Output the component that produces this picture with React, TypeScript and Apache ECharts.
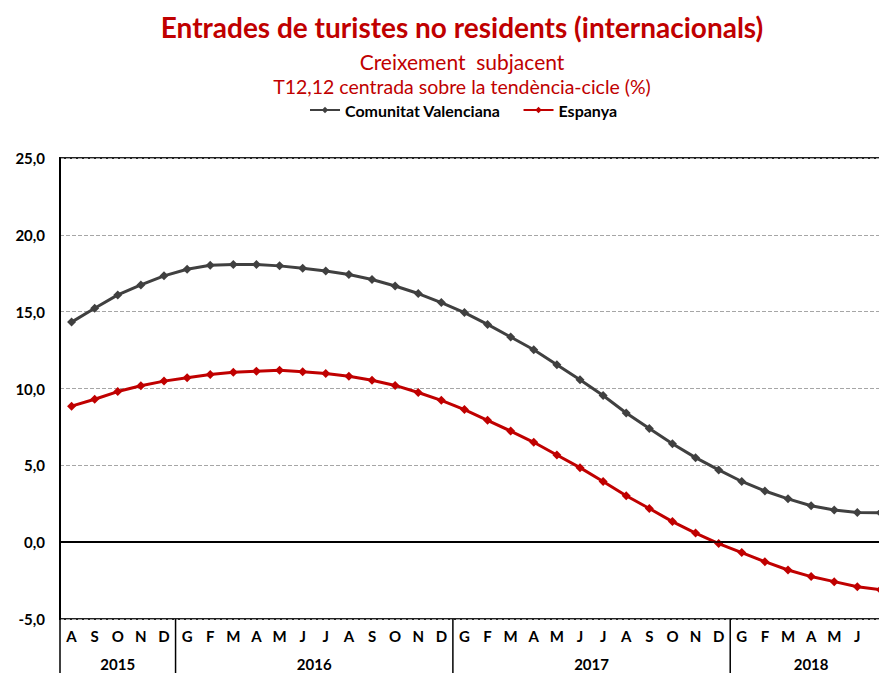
import React, { useEffect, useRef } from "react";
import * as echarts from "echarts";

const months = ["A","S","O","N","D","G","F","M","A","M","J","J","A","S","O","N","D","G","F","M","A","M","J","J","A","S","O","N","D","G","F","M","A","M","J","J"];
const years = ["2015", "2016", "2017", "2018"];
const yearStart = [0, 5, 17, 29];
const yearEnd = [4, 16, 28, 35];

const comunitatValenciana = [14.32,15.22,16.09,16.74,17.33,17.76,18.02,18.07,18.07,17.98,17.83,17.65,17.42,17.09,16.67,16.18,15.59,14.94,14.17,13.35,12.52,11.55,10.57,9.54,8.41,7.39,6.41,5.5,4.7,3.95,3.33,2.82,2.37,2.09,1.93,1.92];
const espanya = [8.85,9.3,9.8,10.18,10.48,10.7,10.91,11.06,11.13,11.19,11.09,10.98,10.8,10.54,10.2,9.74,9.23,8.63,7.93,7.23,6.5,5.67,4.85,3.95,3.02,2.19,1.34,0.59,-0.09,-0.68,-1.27,-1.81,-2.24,-2.57,-2.9,-3.1];

const yTicks = { min: -5, max: 25, interval: 5 };

const RED = "#C00000";
const GRAY = "#404040";
const FONT = "Lato, 'Open Sans', sans-serif";

export default function App() {
  const ref = useRef<HTMLDivElement>(null);
  useEffect(() => {
    if (!ref.current) return;
    const chart = echarts.init(ref.current, null, { renderer: "svg" });
    const titleText = (text: string, y: number, size: number, bold: boolean) => ({
      type: "text",
      x: 462,
      y,
      style: {
        text,
        fill: RED,
        font: `${bold ? "bold " : ""}${size}px ${FONT}`,
        align: "center",
        verticalAlign: "middle",
        textAlign: "center",
        textVerticalAlign: "middle",
      },
    });
    chart.setOption({
      animation: false,
      backgroundColor: "#fff",
      graphic: [
        titleText("Entrades de turistes no residents (internacionals)", 27, 28, true),
        titleText("Creixement  subjacent", 61, 21, false),
        titleText("T12,12 centrada sobre la tendència-cicle (%)", 86, 19.5, false),
      ],
      legend: {
        left: 304,
        top: 97,
        itemWidth: 30,
        itemHeight: 8,
        itemGap: 22,
        data: ["Comunitat Valenciana", "Espanya"],
        textStyle: { fontFamily: FONT, fontWeight: "bold", fontSize: 16, color: "#000" },
      },
      grid: {
        left: 60,
        top: 158,
        bottom: 54,
        right: 0,
        show: true,
        borderColor: "#222",
        borderWidth: 2,
        backgroundColor: "transparent",
      },
      xAxis: {
        type: "category",
        data: months,
        boundaryGap: true,
        axisLine: { show: true, lineStyle: { color: "#000", width: 2 } },
        axisTick: { show: false },
        axisLabel: {
          interval: (i: number) => i < months.length - 1,
          margin: 9,
          color: "#000",
          fontFamily: FONT,
          fontWeight: "bold",
          fontSize: 15,
        },
        splitLine: { show: false },
      },
      yAxis: {
        type: "value",
        min: yTicks.min,
        max: yTicks.max,
        interval: yTicks.interval,
        axisLine: { show: true, lineStyle: { color: "#000", width: 2 } },
        axisTick: { show: false },
        axisLabel: {
          margin: 15,
          color: "#000",
          fontFamily: FONT,
          fontWeight: "bold",
          fontSize: 15,
          formatter: (v: number) => v.toFixed(1).replace(".", ","),
        },
        splitLine: { show: true, lineStyle: { color: "#A6A6A6", type: [4, 2], width: 1 } },
      },
      series: [
        {
          name: "zero",
          type: "line",
          data: [],
          z: 1,
          silent: true,
          markLine: {
            silent: true,
            symbol: "none",
            label: { show: false },
            lineStyle: { color: "#000", width: 1.5, type: "solid" },
            data: [{ yAxis: 0 }],
          },
        },
        {
          name: "Comunitat Valenciana",
          type: "line",
          data: comunitatValenciana,
          color: GRAY,
          symbol: "diamond",
          symbolSize: 9,
          lineStyle: { width: 3, color: GRAY },
          itemStyle: { color: GRAY },
          z: 3,
        },
        {
          name: "Espanya",
          type: "line",
          data: espanya,
          color: RED,
          symbol: "diamond",
          symbolSize: 9,
          lineStyle: { width: 3, color: RED },
          itemStyle: { color: RED },
          z: 3,
        },
        {
          name: "years",
          type: "custom",
          clip: false,
          silent: true,
          data: yearStart.map((s, i) => [s, yearEnd[i]]),
          encode: { x: 0 },
          renderItem: (params: any, api: any) => {
            const s = api.value(0);
            const e = api.value(1);
            const w = api.size([1, 0])[0];
            const p0 = api.coord([s, yTicks.min]);
            const p1 = api.coord([e, yTicks.min]);
            const x0 = p0[0] - w / 2;
            const x1 = p1[0] + w / 2;
            const H = api.getHeight();
            return {
              type: "group",
              children: [
                {
                  type: "line",
                  shape: { x1: x0, y1: p0[1], x2: x0, y2: H },
                  style: { stroke: "#000", lineWidth: 1.5 },
                },
                {
                  type: "text",
                  x: (x0 + x1) / 2,
                  y: p0[1] + 45,
                  style: {
                    text: years[params.dataIndex],
                    fill: "#000",
                    font: `bold 15px ${FONT}`,
                    align: "center",
                    verticalAlign: "middle",
                    textAlign: "center",
                    textVerticalAlign: "middle",
                  },
                },
              ],
            };
          },
        },
      ],
    });
    return () => chart.dispose();
  }, []);
  return (
    <div style={{ position: "fixed", left: 0, top: 0, width: 879, height: 673, overflow: "hidden", background: "#fff" }}>
      <div ref={ref} style={{ position: "absolute", left: 0, top: 0, width: 892, height: 673 }} />
    </div>
  );
}
